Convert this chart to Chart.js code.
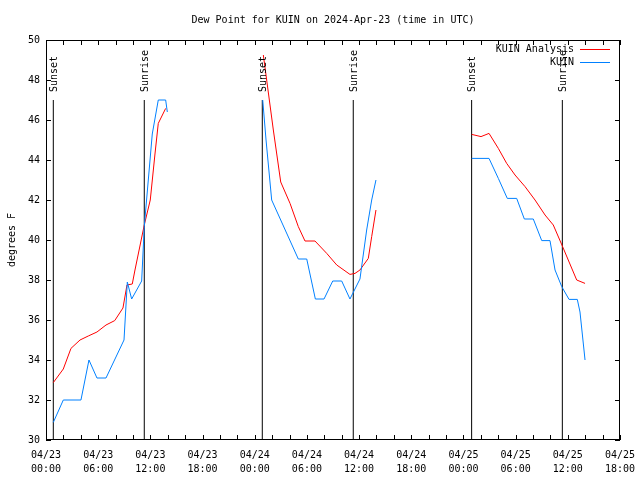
<!DOCTYPE html>
<html>
<head>
<meta charset="utf-8">
<script src="https://cdn.jsdelivr.net/npm/chart.js@4.4.0/dist/chart.umd.min.js"></script>
<style>
  html, body { margin: 0; padding: 0; background: #fff; }
</style>
</head>
<body>
<canvas id="dewChart" width="640" height="480"></canvas>
<script>
// hours since 04/23 00:00 UTC, null value = gap between nights
const analysisHours = [0.84, 1.99, 2.87, 3.91, 4.86, 5.86, 6.90, 7.90, 8.85, 9.31, 9.92, 10.23, 11.30, 11.99, 12.53, 12.91, 13.76,
    19,
    24.99, 25.68, 26.14, 26.99, 28.06, 29.01, 29.78, 30.93, 32.28, 33.43, 34.95, 35.53, 36.10, 37.06, 37.45, 37.94,
    43,
    48.95, 50.02, 50.94, 52.01, 52.97, 53.93, 55.08, 56.23, 57.38, 58.33, 59.37, 61.02, 61.98];
const analysisDew = [32.87, 33.55, 34.58, 35.0, 35.2, 35.4, 35.75, 35.97, 36.6, 37.75, 37.8, 38.5, 40.75, 42.0, 44.3, 45.83, 46.58,
    null,
    49.25, 47.0, 45.5, 42.9, 41.83, 40.67, 39.95, 39.95, 39.33, 38.75, 38.28, 38.33, 38.5, 39.08, 40.17, 41.5,
    null,
    45.28, 45.17, 45.33, 44.58, 43.83, 43.25, 42.67, 42.0, 41.25, 40.75, 39.7, 38.0, 37.83];

const obsHours = [0.84, 1.99, 4.02, 4.94, 5.86, 6.90, 8.97, 9.35, 9.85, 11.0, 11.30, 12.22, 12.91, 13.76, 13.95,
    19,
    24.92, 25.30, 25.95, 29.01, 29.98, 30.97, 31.97, 32.97, 34.0, 34.95, 36.10, 36.87, 37.45, 37.94,
    43,
    48.95, 50.94, 52.01, 53.04, 54.12, 55.0, 56.03, 57.0, 57.95, 58.53, 59.30, 60.14, 61.09, 61.40, 61.98];
const obsDew = [30.88, 32, 32, 34, 33.1, 33.1, 35, 37.9, 37.05, 37.95, 40.67, 45.3, 47, 47, 46.4,
    null,
    47, 45, 42, 39.05, 39.05, 37.05, 37.05, 37.95, 37.95, 37.05, 38.05, 40.5, 42, 43,
    null,
    44.08, 44.08, 43.08, 42.08, 42.08, 41.05, 41.05, 39.97, 39.97, 38.5, 37.67, 37.03, 37.03, 36.4, 34];

const sunHours = [0.84, 11.30, 24.87, 35.33, 48.94, 59.37];
const sunNames = ['Sunset', 'Sunrise', 'Sunset', 'Sunrise', 'Sunset', 'Sunrise'];
const sunLineTop = 47;

const chartTitle = 'Dew Point for KUIN on 2024-Apr-23 (time in UTC)';
const FONT = 'DejaVu Sans Mono';

function toPoints(xs, ys) {
    return xs.map((x, i) => ({ x: x, y: ys[i] }));
}

// vertical marker lines, each one from the bottom of the axis up to sunLineTop
const sunPoints = [];
sunHours.forEach(h => {
    sunPoints.push({ x: h, y: 30 });
    sunPoints.push({ x: h, y: sunLineTop });
    sunPoints.push({ x: h, y: null });
});

function tickLabel(v) {
    if (v % 6 !== 0) return '';
    const day = 23 + Math.floor(v / 24);
    const hr = v % 24;
    return ['04/' + day, String(hr).padStart(2, '0') + ':00'];
}

const gnuplotLook = {
    id: 'gnuplotLook',
    afterDatasetsDraw(chart) {
        const ctx = chart.ctx;
        const xs = chart.scales.x;
        const ys = chart.scales.y;
        ctx.save();
        ctx.fillStyle = '#000';
        ctx.font = '10px "' + FONT + '"';
        ctx.textAlign = 'left';
        ctx.textBaseline = 'middle';
        sunHours.forEach((h, i) => {
            const px = xs.getPixelForValue(h);
            const py = ys.getPixelForValue(sunLineTop) - 8;
            ctx.save();
            ctx.translate(px + 1, py);
            ctx.rotate(-Math.PI / 2);
            ctx.fillText(sunNames[i], 0, 0);
            ctx.restore();
        });
        ctx.restore();
    },
    afterDraw(chart) {
        const ctx = chart.ctx;
        const a = chart.chartArea;
        const xs = chart.scales.x;
        const ys = chart.scales.y;
        ctx.save();
        ctx.strokeStyle = '#000';
        ctx.lineWidth = 1;
        ctx.strokeRect(a.left + 0.5, a.top + 0.5, a.right - a.left - 1, a.bottom - a.top - 1);

        // inward ticks on all four sides
        ctx.beginPath();
        xs.ticks.forEach(t => {
            const px = Math.round(xs.getPixelForValue(t.value)) + 0.5;
            ctx.moveTo(px, a.bottom);
            ctx.lineTo(px, a.bottom - 5);
            ctx.moveTo(px, a.top);
            ctx.lineTo(px, a.top + 5);
        });
        ys.ticks.forEach(t => {
            const py = Math.round(ys.getPixelForValue(t.value)) + 0.5;
            ctx.moveTo(a.left, py);
            ctx.lineTo(a.left + 5, py);
            ctx.moveTo(a.right, py);
            ctx.lineTo(a.right - 5, py);
        });
        ctx.stroke();

        ctx.font = '10px "' + FONT + '"';
        ctx.fillStyle = '#000';
        ctx.textAlign = 'center';
        ctx.textBaseline = 'middle';
        ctx.fillText(chartTitle, (a.left + a.right) / 2, 20);

        // key, top right inside the plot
        ctx.textAlign = 'right';
        const keys = chart.data.datasets.filter(d => d.keyRow !== undefined)
            .sort((p, q) => p.keyRow - q.keyRow);
        keys.forEach((d, i) => {
            const y = a.top + 9 + i * 13;
            ctx.fillStyle = '#000';
            ctx.fillText(d.label, a.right - 46, y);
            ctx.strokeStyle = d.borderColor;
            ctx.beginPath();
            ctx.moveTo(a.right - 40, y + 0.5);
            ctx.lineTo(a.right - 10, y + 0.5);
            ctx.stroke();
        });
        ctx.restore();
    }
};

new Chart(document.getElementById('dewChart'), {
    type: 'line',
    data: {
        datasets: [
            {
                label: 'KUIN',
                data: toPoints(obsHours, obsDew),
                borderColor: '#0080ff',
                borderWidth: 1,
                pointRadius: 0,
                spanGaps: false,
                order: 0,
                keyRow: 1
            },
            {
                label: 'KUIN Analysis',
                data: toPoints(analysisHours, analysisDew),
                borderColor: '#ff0000',
                borderWidth: 1,
                pointRadius: 0,
                spanGaps: false,
                order: 1,
                keyRow: 0
            },
            {
                label: 'sun',
                data: sunPoints,
                borderColor: '#000',
                borderWidth: 1,
                pointRadius: 0,
                spanGaps: false,
                order: 2
            }
        ]
    },
    options: {
        responsive: false,
        animation: false,
        devicePixelRatio: 1,
        layout: { padding: { left: 0, right: 20, top: 40, bottom: 0 } },
        plugins: {
            legend: { display: false },
            tooltip: { enabled: false },
            title: { display: false }
        },
        scales: {
            x: {
                type: 'linear',
                min: 0,
                max: 66,
                grid: { display: false, drawTicks: false },
                border: { display: false },
                ticks: {
                    stepSize: 2,
                    autoSkip: false,
                    maxRotation: 0,
                    padding: 8,
                    color: '#000',
                    font: { family: FONT, size: 10, lineHeight: 1.4 },
                    callback: v => tickLabel(v)
                },
                afterFit: s => { s.height = 40; s.paddingLeft = 0; s.paddingRight = 0; }
            },
            y: {
                min: 30,
                max: 50,
                grid: { display: false, drawTicks: false },
                border: { display: false },
                ticks: {
                    stepSize: 2,
                    padding: 6,
                    color: '#000',
                    font: { family: FONT, size: 10 }
                },
                title: {
                    display: true,
                    text: 'degrees F',
                    color: '#000',
                    font: { family: FONT, size: 10 },
                    padding: { top: 6, bottom: 2 }
                },
                afterFit: s => { s.width = 46; s.paddingTop = 0; s.paddingBottom = 0; }
            }
        }
    },
    plugins: [gnuplotLook]
});
</script>
</body>
</html>
